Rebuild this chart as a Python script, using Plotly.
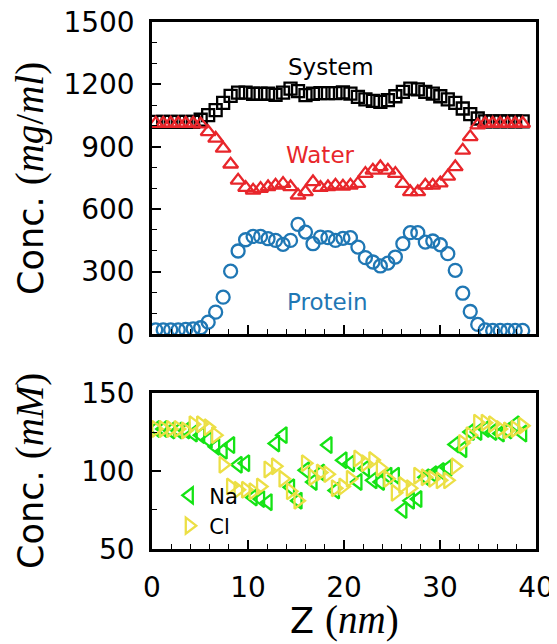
import plotly.graph_objects as go

# ---- data ----
z = [0.39, 1.17, 1.95, 2.73, 3.51, 4.29, 5.07, 5.85, 6.63, 7.41,
     8.19, 8.97, 9.75, 10.53, 11.31, 12.09, 12.87, 13.65, 14.43, 15.21,
     15.99, 16.77, 17.55, 18.33, 19.11, 19.89, 20.67, 21.45, 22.23, 23.01,
     23.79, 24.57, 25.35, 26.13, 26.91, 27.69, 28.47, 29.25, 30.03, 30.81,
     31.59, 32.37, 33.15, 33.93, 34.71, 35.49, 36.27, 37.05, 37.83, 38.61]

system = [1020, 1020, 1020, 1020, 1020, 1020, 1030, 1052, 1076, 1111,
          1145, 1160, 1160, 1155, 1155, 1155, 1150, 1160, 1180, 1168,
          1148, 1155, 1158, 1158, 1158, 1162, 1156, 1140, 1128, 1121,
          1116, 1124, 1143, 1164, 1180, 1176, 1164, 1156, 1143, 1128,
          1111, 1084, 1057, 1036, 1022, 1022, 1022, 1022, 1022, 1022]

water = [1012, 1012, 1012, 1012, 1012, 1012, 1009, 972, 940, 892,
         816, 739, 704, 691, 699, 707, 715, 723, 707, 667,
         683, 731, 704, 707, 715, 710, 715, 723, 771, 787,
         803, 787, 771, 723, 683, 683, 715, 715, 725, 758,
         803, 883, 948, 1004, 1012, 1012, 1012, 1012, 1012, 1012]

protein = [20, 20, 20, 20, 22, 25, 30, 57, 105, 177,
           302, 399, 453, 469, 469, 458, 450, 431, 450, 527,
           490, 434, 466, 463, 450, 460, 463, 418, 367, 346,
           327, 341, 370, 434, 487, 487, 442, 447, 429, 386,
           306, 196, 108, 46, 20, 17, 17, 17, 17, 17]

na = [127, 127, 126, 126, 126, 124, 123, 120, 115.5, 113,
      116.6, 104, 105, 83, 82, 80, 117.7, 123, 89.6, 81,
      100.5, 93, 99, 116.6, 87.5, 106.9, 104.8, 93, 101.6, 94,
      93, 97, 97, 75, 81, 82, 96, 98, 100, 102,
      117, 114, 125, 125, 127, 125, 124, 126, 130, 124]

cl = [127, 127, 127, 127, 126, 130, 130, 128, 123, 104,
      90, 88, 88, 87, 90, 101, 103, 95, 87, 81,
      105, 96, 99, 98, 89, 90, 95, 108, 105, 107,
      102, 95, 86, 91, 89, 97, 96, 95, 94, 94,
      103, 118, 123, 131, 131, 130, 127, 126, 127, 129]

top_yticks = [0, 300, 600, 900, 1200, 1500]
bot_yticks = [50, 100, 150]
xticks = [0, 10, 20, 30, 40]

# ---- styles ----
BLACK = "#000000"
RED = "#e8262b"
BLUE = "#1f77b4"
GREEN = "#14e314"
YELLOW = "#ecdf45"
FONT = "DejaVu Sans"
MATH = "font-family:'Liberation Serif';font-size:39px"

TOP_DOM = [0.408, 1.0]
BOT_DOM = [0.0, 0.296]

fig = go.Figure()

fig.add_trace(go.Scatter(x=z, y=system, mode="markers", showlegend=False,
                         marker=dict(symbol="square-open", size=12, color=BLACK,
                                     line=dict(width=2.3, color=BLACK)),
                         xaxis="x", yaxis="y"))
fig.add_trace(go.Scatter(x=z, y=water, mode="markers", showlegend=False,
                         marker=dict(symbol="triangle-up-open", size=13, color=RED,
                                     line=dict(width=2.3, color=RED)),
                         xaxis="x", yaxis="y"))
fig.add_trace(go.Scatter(x=z, y=protein, mode="markers", showlegend=False,
                         marker=dict(symbol="circle-open", size=13, color=BLUE,
                                     line=dict(width=2.3, color=BLUE)),
                         xaxis="x", yaxis="y"))

fig.add_trace(go.Scatter(x=z, y=na, mode="markers", name="Na",
                         marker=dict(symbol="triangle-left-open", size=14, color=GREEN,
                                     line=dict(width=2.3, color=GREEN)),
                         xaxis="x2", yaxis="y2"))
fig.add_trace(go.Scatter(x=z, y=cl, mode="markers", name="Cl",
                         marker=dict(symbol="triangle-right-open", size=14, color=YELLOW,
                                     line=dict(width=2.3, color=YELLOW)),
                         xaxis="x2", yaxis="y2"))

axis_common = dict(showline=True, linewidth=2.5, linecolor=BLACK, mirror=True,
                   ticks="inside", tickwidth=1.5, tickcolor=BLACK, ticklen=9,
                   showgrid=False, zeroline=False, automargin=False,
                   ticklabeloverflow="allow",
                   tickfont=dict(family=FONT, size=28, color=BLACK))


def minor(step):
    return dict(dtick=step, ticks="inside", ticklen=5, tickwidth=1.3, tickcolor=BLACK)


def ytitle(text, ycen):
    return dict(x=-0.318, y=ycen, xref="paper", yref="paper", text=text,
                showarrow=False, textangle=-90, xanchor="center", yanchor="middle",
                font=dict(family=FONT, size=35, color=BLACK))


# the page body adds an 8px offset, so the figure is drawn 8px smaller
fig.update_layout(
    width=549, height=636,
    paper_bgcolor="white", plot_bgcolor="white",
    margin=dict(l=144, r=21, t=14, b=95),
    font=dict(family=FONT, color=BLACK),
    xaxis=dict(domain=[0, 1], anchor="y", range=[0, 40], tickvals=xticks,
               showticklabels=False, minor=minor(2), **axis_common),
    yaxis=dict(domain=TOP_DOM, anchor="x", range=[0, 1500], tickvals=top_yticks,
               minor=minor(100), ticklabelstandoff=9, **axis_common),
    xaxis2=dict(domain=[0, 1], anchor="y2", range=[0, 40], tickvals=xticks,
                minor=minor(2), ticklabelstandoff=12, **axis_common),
    yaxis2=dict(domain=BOT_DOM, anchor="x2", range=[50, 150], tickvals=bot_yticks,
                minor=minor(25), ticklabelstandoff=9, **axis_common),
    legend=dict(x=0.045, y=0.14, xanchor="left", yanchor="top",
                bgcolor="rgba(0,0,0,0)", borderwidth=0,
                font=dict(family=FONT, size=21, color=BLACK),
                itemsizing="trace", tracegroupgap=0),
    annotations=[
        dict(x=18.6, y=1283, xref="x", yref="y", text="System", showarrow=False,
             font=dict(family=FONT, size=23, color=BLACK)),
        dict(x=17.5, y=860, xref="x", yref="y", text="Water", showarrow=False,
             font=dict(family=FONT, size=23, color=RED)),
        dict(x=18.3, y=156, xref="x", yref="y", text="Protein", showarrow=False,
             font=dict(family=FONT, size=23, color=BLUE)),
        ytitle("Conc. <span style=\"" + MATH + "\">(<i>mg</i>/<i>ml</i>)</span>",
               (TOP_DOM[0] + TOP_DOM[1]) / 2),
        ytitle("Conc. <span style=\"" + MATH + "\">(<i>mM</i>)</span>",
               (BOT_DOM[0] + BOT_DOM[1]) / 2),
        dict(x=0.5, y=-0.135, xref="paper", yref="paper",
             text="Z <span style=\"" + MATH + "\">(<i>nm</i>)</span>",
             showarrow=False, xanchor="center", yanchor="middle",
             font=dict(family=FONT, size=35, color=BLACK)),
    ],
)

fig.write_html("out.html")
